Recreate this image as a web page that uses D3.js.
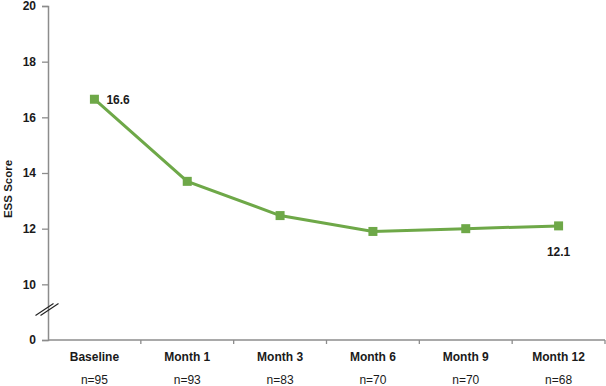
<!DOCTYPE html>
<html>
<head>
<meta charset="utf-8">
<script src="https://cdn.jsdelivr.net/npm/d3@7"></script>
<style>
  body { margin: 0; background: #fff; }
  text { font-family: "Liberation Sans", Arial, sans-serif; fill: #1a1a1a; }
</style>
</head>
<body>
<svg class="chart"></svg>
<script>
// chart data
var categories = ["Baseline", "Month 1", "Month 3", "Month 6", "Month 9", "Month 12"];
var sampleSizes = ["n=95", "n=93", "n=83", "n=70", "n=70", "n=68"];
var essScores = [16.65, 13.7, 12.47, 11.9, 12.0, 12.1];
var yTicks = [8, 10, 12, 14, 16, 18, 20];   // 8 sits where the broken axis shows "0"

var width = 606,
    height = 386,
    plotLeft = 48,
    plotRight = 605,
    plotTop = 6,
    plotBottom = 340,
    green = "#6ea848",
    axisColor = "#8c8c8c";

var svg = d3.select(".chart")
    .attr("width", width)
    .attr("height", height);

var x = d3.scaleBand()
    .domain(categories)
    .range([plotLeft, plotRight]);

var y = d3.scaleLinear()
    .domain([8, 20])
    .range([plotBottom, plotTop]);

// y axis
var yAxis = d3.axisLeft(y)
    .tickValues(yTicks)
    .tickSize(6)
    .tickPadding(6)
    .tickFormat(function(d) { return d === 8 ? "0" : d; });

var gy = svg.append("g")
    .attr("transform", "translate(" + plotLeft + ",0)")
    .call(yAxis);

gy.select(".domain").attr("stroke", axisColor).attr("stroke-width", 1.5);
gy.selectAll(".tick line").attr("stroke", axisColor).attr("stroke-width", 1.3);
gy.selectAll(".tick text")
    .attr("font-size", 12)
    .attr("font-weight", "bold")
    .attr("font-family", "Liberation Sans, Arial, sans-serif")
    .attr("fill", "#1a1a1a");

// break marks on the y axis
var breakY = y(9.1);
[-2.5, 2.5].forEach(function(off) {
    svg.append("line")
        .attr("x1", plotLeft - 10 + off)
        .attr("y1", breakY + 6)
        .attr("x2", plotLeft + 8 + off)
        .attr("y2", breakY - 6)
        .attr("stroke", "#222")
        .attr("stroke-width", 1.2);
});

// x axis
var gx = svg.append("g")
    .attr("transform", "translate(0," + plotBottom + ")");

gx.append("line")
    .attr("x1", plotLeft)
    .attr("x2", plotRight)
    .attr("stroke", axisColor)
    .attr("stroke-width", 1.5);

gx.selectAll(".xtick")
    .data(categories)
    .enter().append("line")
    .attr("x1", function(d) { return x(d) + x.step(); })
    .attr("x2", function(d) { return x(d) + x.step(); })
    .attr("y1", 0)
    .attr("y2", 4)
    .attr("stroke", axisColor)
    .attr("stroke-width", 1.3);

gx.selectAll(".cat")
    .data(categories)
    .enter().append("text")
    .attr("x", function(d) { return x(d) + x.bandwidth() / 2; })
    .attr("y", 21)
    .attr("text-anchor", "middle")
    .attr("font-size", 12)
    .attr("font-weight", "bold")
    .text(function(d) { return d; });

gx.selectAll(".n")
    .data(sampleSizes)
    .enter().append("text")
    .attr("x", function(d, i) { return x(categories[i]) + x.bandwidth() / 2; })
    .attr("y", 44)
    .attr("text-anchor", "middle")
    .attr("font-size", 12)
    .attr("fill", "#333")
    .text(function(d) { return d; });

// y axis title
svg.append("text")
    .attr("transform", "translate(12," + ((plotTop + plotBottom) / 2 + 16) + ") rotate(-90)")
    .attr("text-anchor", "middle")
    .attr("font-size", 11.5)
    .attr("font-weight", "bold")
    .text("ESS Score");

// line
var line = d3.line()
    .x(function(d, i) { return x(categories[i]) + x.bandwidth() / 2; })
    .y(function(d) { return y(d); });

svg.append("path")
    .datum(essScores)
    .attr("fill", "none")
    .attr("stroke", green)
    .attr("stroke-width", 3)
    .attr("d", line);

svg.selectAll(".pt")
    .data(essScores)
    .enter().append("rect")
    .attr("x", function(d, i) { return x(categories[i]) + x.bandwidth() / 2 - 4.5; })
    .attr("y", function(d) { return y(d) - 4.5; })
    .attr("width", 9)
    .attr("height", 9)
    .attr("fill", green);

// value labels
svg.append("text")
    .attr("x", x(categories[0]) + x.bandwidth() / 2 + 12)
    .attr("y", y(essScores[0]) + 5)
    .attr("font-size", 12)
    .attr("font-weight", "bold")
    .text(essScores[0].toFixed(1));

svg.append("text")
    .attr("x", x(categories[5]) + x.bandwidth() / 2)
    .attr("y", y(essScores[5]) + 30)
    .attr("text-anchor", "middle")
    .attr("font-size", 12)
    .attr("font-weight", "bold")
    .text(essScores[5].toFixed(1));
</script>
</body>
</html>
